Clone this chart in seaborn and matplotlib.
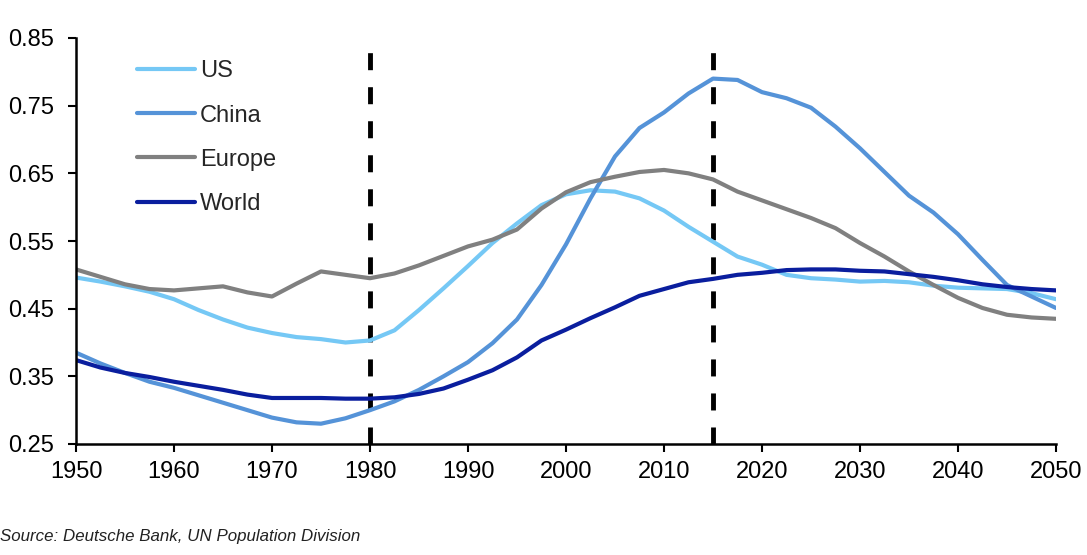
import numpy as np
import pandas as pd
import matplotlib
matplotlib.use("Agg")
import matplotlib.pyplot as plt
import seaborn as sns

# =========================================
# DADOS (passos de 2,5 anos)
# =========================================

anos = [1950, 1952.5, 1955, 1957.5, 1960, 1962.5, 1965, 1967.5, 1970, 1972.5,
        1975, 1977.5, 1980, 1982.5, 1985, 1987.5, 1990, 1992.5, 1995, 1997.5,
        2000, 2002.5, 2005, 2007.5, 2010, 2012.5, 2015, 2017.5, 2020, 2022.5,
        2025, 2027.5, 2030, 2032.5, 2035, 2037.5, 2040, 2042.5, 2045, 2047.5,
        2050]

us = [0.496, 0.490, 0.483, 0.475, 0.464, 0.448, 0.434, 0.422, 0.414, 0.408,
      0.405, 0.400, 0.403, 0.418, 0.448, 0.480, 0.513, 0.547, 0.576, 0.603,
      0.619, 0.625, 0.623, 0.613, 0.595, 0.571, 0.549, 0.527, 0.515, 0.500,
      0.495, 0.493, 0.490, 0.491, 0.489, 0.484, 0.481, 0.480, 0.479, 0.473,
      0.464]

china = [0.385, 0.369, 0.355, 0.342, 0.333, 0.322, 0.311, 0.300, 0.289, 0.282,
         0.280, 0.288, 0.300, 0.313, 0.330, 0.350, 0.371, 0.399, 0.434, 0.485,
         0.545, 0.613, 0.675, 0.717, 0.740, 0.768, 0.790, 0.788, 0.770, 0.761,
         0.747, 0.719, 0.687, 0.652, 0.617, 0.592, 0.560, 0.522, 0.485, 0.468,
         0.451]

europe = [0.508, 0.497, 0.486, 0.479, 0.477, 0.480, 0.483, 0.474, 0.468, 0.487,
          0.505, 0.500, 0.495, 0.502, 0.514, 0.528, 0.542, 0.552, 0.567, 0.598,
          0.622, 0.637, 0.645, 0.652, 0.655, 0.650, 0.641, 0.623, 0.610, 0.597,
          0.584, 0.569, 0.547, 0.527, 0.505, 0.485, 0.466, 0.451, 0.441, 0.437,
          0.435]

world = [0.374, 0.363, 0.355, 0.349, 0.342, 0.336, 0.330, 0.323, 0.318, 0.318,
         0.318, 0.317, 0.317, 0.319, 0.324, 0.332, 0.345, 0.359, 0.378, 0.403,
         0.419, 0.436, 0.452, 0.469, 0.479, 0.489, 0.494, 0.500, 0.503, 0.507,
         0.508, 0.508, 0.506, 0.505, 0.501, 0.497, 0.492, 0.486, 0.482, 0.479,
         0.477]

series = ["US", "China", "Europe", "World"]
cores = {"US": "#75C8F5", "China": "#5593D8", "Europe": "#808080", "World": "#0A1E9E"}

anos_marcados = [1980, 2015]

x_ticks = [1950, 1960, 1970, 1980, 1990, 2000, 2010, 2020, 2030, 2040, 2050]
y_ticks = [0.25, 0.35, 0.45, 0.55, 0.65, 0.75, 0.85]

fonte = "Source: Deutsche Bank, UN Population Division"

# =========================================
# TABELA LONGA
# =========================================

df = pd.DataFrame({
    "ano": anos * 4,
    "valor": us + china + europe + world,
    "serie": [s for s in series for _ in anos],
})

# =========================================
# GRÁFICO
# =========================================

sns.set_style("white")
plt.rcParams["font.family"] = ["Liberation Sans", "DejaVu Sans"]

fig = plt.figure(figsize=(10.87, 5.55), dpi=100)
ax = fig.add_axes([76 / 1087, 1 - 444 / 555, 980 / 1087, 406 / 555])

sns.lineplot(
    data=df,
    x="ano",
    y="valor",
    hue="serie",
    hue_order=series,
    palette=cores,
    linewidth=3,
    ax=ax,
)

# linhas tracejadas de referência
for a in anos_marcados:
    ax.vlines(a, 0.25, 0.845, colors="black", linestyles=(0, (3.5, 3.5)),
              linewidth=3.5, zorder=1)

ax.set_xlim(1950, 2050)
ax.set_ylim(0.25, 0.85)
ax.set_xticks(x_ticks)
ax.set_yticks(y_ticks)
ax.set_yticklabels([f"{v:.2f}" for v in y_ticks])
ax.set_xlabel("")
ax.set_ylabel("")

for lado in ["top", "right"]:
    ax.spines[lado].set_visible(False)
for lado in ["left", "bottom"]:
    ax.spines[lado].set_color("black")
    ax.spines[lado].set_linewidth(1.8)

ax.tick_params(axis="both", which="major", direction="out", length=5.5, width=1.5,
               color="black", labelsize=17, labelcolor="black", left=True, bottom=True)
ax.tick_params(axis="y", pad=10)
ax.tick_params(axis="x", pad=7)

leg = ax.legend(
    loc="upper left",
    bbox_to_anchor=(0.0622, 0.945),
    borderaxespad=0,
    borderpad=0,
    frameon=False,
    fontsize=17,
    handlelength=2.45,
    handletextpad=0.21,
    labelspacing=0.94,
)
for linha in leg.get_lines():
    linha.set_linewidth(3)

fig.text(0.0, 1 - 537 / 555, fonte, fontsize=12.2, style="italic", color="#222222",
         va="center", ha="left")

fig.savefig("out.png", dpi=100)
